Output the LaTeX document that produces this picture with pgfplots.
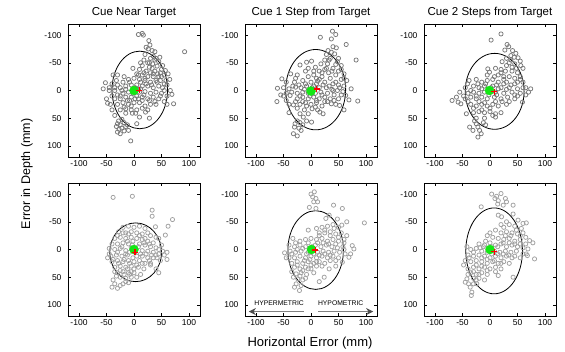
\documentclass[border=0pt]{standalone}
\usepackage{fontspec}
\setmainfont{Liberation Sans}
\usepackage{pgfplots}
\pgfplotsset{compat=1.18}
\usetikzlibrary{arrows.meta}
\definecolor{ptdark}{RGB}{120,120,120}
\definecolor{ptlight}{RGB}{160,160,160}
\definecolor{mygreen}{RGB}{20,230,20}
\pgfplotsset{
  panel/.style={
    scale only axis, width=132pt, height=133pt,
    xmin=-120,xmax=120,ymin=-120,ymax=120,
    y dir=reverse,
    xtick={-100,-50,0,50,100}, ytick={-100,-50,0,50,100},
    tick align=inside, major tick length=3pt,
    tick style={black, line width=0.5pt},
    axis line style={line width=0.7pt},
    ticklabel style={font=\fontsize{8.5}{10}\selectfont},
    yticklabel style={xshift=-3pt},
    /pgf/number format/assume math mode=true,
    title style={font=\fontsize{11.5}{13}\selectfont, yshift=-3pt},
  },
  pts/.style={only marks, mark=o, mark size=2.1pt, mark options={draw=#1, line width=0.75pt}},
  ctr/.style={only marks, mark=*, mark size=4.5pt, color=mygreen},
  mean/.style={only marks, mark=+, mark size=3pt, color=red, line width=1.4pt},
}
\begin{document}
\begin{tikzpicture}
\useasboundingbox (0,0) rectangle (565pt,352pt);
% ---------------- Panel 1
\begin{axis}[panel, at={(68pt,328pt)}, anchor=north west, title={Cue Near Target}]
\addplot[pts=ptdark] coordinates {
(8,-101)(15,-103)(17,-100)(27,-90)(29,-82)(22,-78)(26,-75)(33,-72)(38,-70)(92,-70)(47,-60)(20,-65)(35,-62)(40,-58)(30,-58)(45,-52)(18,-55)(25,-50)(34,-48)(52,-45)(42,-44)(28,-42)(15,-45)(50,-38)(57,-36)(48,-32)(38,-35)(30,-32)(22,-35)(10,-38)(-2,-40)(5,-30)(15,-28)(25,-25)(35,-25)(45,-25)(55,-28)(62,-30)(65,-20)(58,-18)(40,-18)(30,-15)(20,-18)(10,-20)(0,-22)(-10,-20)(-18,-25)(-30,-28)(-38,-28)(-20,-15)(-30,-10)(-40,-12)(-52,-14)(-56,-3)(-45,-5)(-35,0)(-25,-5)(-15,-8)(-5,-10)(5,-10)(15,-8)(25,-8)(35,-5)(45,-8)(52,-5)(60,-10)(66,0)(60,10)(50,5)(40,3)(30,5)(20,2)(10,3)(-10,3)(-20,5)(-30,8)(-40,10)(-48,23)(-43,25)(-50,15)(-35,15)(-25,15)(-15,12)(-5,12)(5,10)(15,12)(25,15)(35,12)(45,15)(55,20)(69,7)(72,24)(60,25)(-30,25)(-20,22)(-10,25)(0,22)(10,22)(20,28)(30,25)(40,25)(-25,35)(-15,33)(-5,35)(5,35)(15,32)(-15,41)(-3,41)(3,41)(21,39)(28,50)(-28,55)(-22,52)(-30,60)(-25,62)(-18,58)(-32,65)(-27,70)(-22,68)(-15,65)(-12,62)(-30,75)(-25,78)(-18,73)(-10,72)(-6,91)(10,48)(-35,45)(-40,35)(5,60)
(2,-5)(12,-3)(22,-12)(32,-10)(42,-15)(-8,-15)(-2,5)(8,15)(18,8)(28,18)(38,20)(48,10)(55,0)(-12,18)(-22,0)(-32,-18)(-45,0)(33,-40)(43,-30)(18,-32)(8,-28)(28,-50)(38,-55)(12,-50)(48,-18)(55,-12)(-5,28)(15,18)(25,35)(-18,30)(-8,18)(2,15)(12,-15)(-25,10)(-35,-5)(-15,-2)(8,-2)(20,-22)(35,-30)(50,-25)
};
\draw[black, line width=0.8pt] (axis cs:10.5,-1) ellipse [x radius=50.5, y radius=70];
\addplot[ctr] coordinates {(0,0)};
\addplot[mean] coordinates {(10,0)};
\end{axis}
% ---------------- Panel 2
\begin{axis}[panel, at={(245pt,328pt)}, anchor=north west, title={Cue 1 Step from Target}]
\addplot[pts=ptdark] coordinates {
(39,-107)(45,-101)(17,-96)(37,-93)(64,-83)(40,-79)(46,-77)(31,-72)(37,-69)(43,-66)(28,-65)(82,-55)(50,-58)(35,-58)(25,-55)(-20,-46)(-8,-51)(1,-53)(-10,-35)(8,-42)(18,-48)(30,-48)(45,-47)(55,-45)(40,-40)(50,-35)(25,-38)(15,-35)(32,-32)(60,-30)(45,-28)(-37,-30)(-53,-21)(-25,-28)(-5,-25)(5,-28)(20,-25)(35,-22)(55,-20)(65,-18)(-45,-15)(-30,-15)(-15,-18)(0,-15)(12,-17)(25,-15)(40,-12)(50,-10)(60,-8)(-61,-4)(-50,-5)(-40,-3)(-28,-6)(-18,-5)(-8,-8)(5,-8)(15,-5)(28,-5)(38,-2)(48,0)(58,2)(73,-3)(-55,8)(-45,5)(-35,3)(-25,5)(-15,3)(-5,5)(8,5)(18,3)(30,5)(42,8)(63,9)(-62,20)(-38,9)(-32,26)(-45,18)(-25,15)(-15,12)(-5,15)(5,12)(15,15)(25,12)(35,15)(50,15)(69,17)(85,19)(-20,25)(-10,22)(0,25)(10,22)(20,28)(37,24)(52,27)(-25,32)(-12,35)(2,33)(12,35)(-20,42)(-14,48)(-5,42)(16,39)(22,42)(-29,60)(-25,55)(-20,58)(-15,62)(-30,66)(-22,68)(-18,72)(-32,78)(-25,82)(1,57)(-8,55)(60,35)(-40,40)
(2,-5)(10,-12)(22,-10)(33,-8)(45,-15)(-10,-12)(-2,10)(10,18)(20,8)(30,20)(42,18)(55,8)(-22,-10)(-33,-8)(-50,10)(-40,25)(28,-40)(38,-35)(20,-32)(10,-22)(33,-55)(48,-52)(55,-38)(-8,28)(8,30)(-15,20)(-28,20)(3,-2)(15,-20)(40,0)(52,-5)(-12,-2)(-20,10)(25,20)(45,25)(-5,-40)(-28,-22)(5,-35)(60,-22)
};
\draw[black, line width=0.8pt] (axis cs:8.5,-1.5) ellipse [x radius=54.5, y radius=72.5];
\addplot[ctr] coordinates {(0,1)};
\addplot[mean] coordinates {(10,-3)};
\end{axis}
% ---------------- Panel 3
\begin{axis}[panel, at={(424pt,328pt)}, anchor=north west, title={Cue 2 Steps from Target}]
\addplot[pts=ptdark] coordinates {
(20,-102)(2,-91)(31,-83)(34,-79)(27,-73)(41,-72)(47,-67)(38,-63)(44,-60)(51,-59)(55,-53)(30,-58)(22,-52)(35,-50)(45,-48)(56,-45)(60,-40)(-4,-39)(-1,-33)(10,-40)(20,-38)(28,-35)(40,-35)(50,-32)(15,-28)(25,-25)(35,-25)(45,-22)(55,-25)(-41,-12)(-38,-18)(-25,-20)(-15,-15)(-5,-18)(5,-20)(15,-15)(30,-15)(45,-12)(60,-15)(65,-5)(-45,-5)(-30,-8)(-20,-5)(-10,-8)(5,-8)(20,-5)(35,-5)(50,-3)(74,-3)(70,3)(-55,3)(-40,5)(-30,3)(-20,5)(-10,3)(10,3)(25,5)(40,3)(55,5)(65,8)(-69,18)(-61,12)(-58,21)(-53,24)(-45,15)(-35,12)(-25,15)(-15,12)(-5,15)(8,12)(20,15)(32,12)(45,15)(59,21)(-35,25)(-25,28)(-15,25)(-5,28)(5,25)(15,28)(30,25)(-43,42)(-30,40)(-20,38)(-10,40)(0,38)(10,42)(20,40)(-25,50)(-10,50)(10,48)(-37,66)(-31,72)(-25,60)(-22,66)(-19,72)(-16,78)(-22,84)(-12,58)(-8,62)(-28,55)
(2,-5)(12,-10)(25,-12)(38,-10)(50,-15)(-8,-12)(-2,8)(12,8)(22,20)(35,20)(50,10)(-22,-12)(-35,0)(-48,10)(-40,20)(30,-45)(40,-42)(20,-32)(8,-25)(38,-55)(48,-40)(55,-20)(-10,22)(10,20)(-20,20)(-30,32)(0,32)(15,-3)(30,-2)(45,8)(-15,-3)(-25,10)(-15,35)(5,45)(-5,-28)(25,-20)(60,-5)
};
\draw[black, line width=0.8pt] (axis cs:8.5,1.5) ellipse [x radius=53.5, y radius=68.5];
\addplot[ctr] coordinates {(-1,0)};
\addplot[mean] coordinates {(8,2)};
\end{axis}
% ---------------- Panel 4
\begin{axis}[panel, at={(68pt,169pt)}, anchor=north west]
\addplot[pts=ptlight] coordinates {
(-38,-94)(-3,-96)(33,-71)(33,-60)(70,-54)(62,-42)(39,-41)(57,-26)(45,-20)(-20,-40)(-10,-42)(0,-40)(10,-42)(20,-38)(25,-30)(-28,-32)(-15,-30)(-5,-32)(5,-30)(15,-28)(30,-25)(40,-22)(-35,-20)(-25,-22)(-15,-20)(-5,-22)(5,-20)(15,-18)(25,-15)(35,-12)(-40,-10)(-30,-10)(-20,-12)(-10,-10)(10,-10)(20,-8)(30,-5)(40,-3)(50,-8)(52,3)(-45,-2)(-35,0)(-25,-2)(-15,2)(-5,-3)(15,2)(25,3)(35,5)(45,8)(55,10)(60,5)(-42,12)(-32,10)(-22,12)(-12,10)(5,12)(15,12)(25,15)(35,15)(48,20)(60,18)(-48,15)(-40,22)(-30,20)(-20,22)(-10,20)(0,22)(10,20)(20,25)(30,28)(-35,32)(-25,30)(-15,32)(-5,30)(8,32)(18,35)(40,35)(45,42)(-30,42)(-20,40)(-10,42)(0,42)(12,45)(-25,50)(-15,52)(-5,50)(-38,55)(-35,62)(-40,68)(-30,70)(-25,65)(-20,62)(-15,58)(-10,60)(30,25)(-8,5)(-2,15)
(-3,-8)(8,-5)(18,-12)(28,-10)(-12,-15)(-22,-5)(-30,5)(-38,18)(2,5)(12,8)(22,8)(32,10)(42,15)(-18,18)(-8,25)(5,28)(15,25)(-28,25)(-12,35)(0,35)(-25,38)(-18,45)(-8,45)(-32,48)(10,-25)(20,-20)(-10,-28)(-20,-30)(-30,-25)(45,0)(40,10)(28,20)(-35,40)(-45,8)(-5,40)(5,50)(-2,-15)(-15,8)
};
\draw[black, line width=0.8pt] (axis cs:3,5) ellipse [x radius=47, y radius=53];
\addplot[ctr] coordinates {(0,0)};
\addplot[mean] coordinates {(2,5)};
\end{axis}
% ---------------- Panel 5
\begin{axis}[panel, at={(245pt,169pt)}, anchor=north west]
\addplot[pts=ptlight] coordinates {
(6,-104)(0,-100)(3,-95)(9,-92)(5,-86)(12,-86)(-3,-76)(9,-74)(41,-80)(57,-74)(97,-48)(33,-62)(27,-56)(48,-55)(65,-50)(56,-44)(40,-45)(30,-42)(20,-40)(10,-38)(-5,-35)(15,-30)(25,-30)(35,-32)(45,-28)(55,-30)(65,-25)(-33,-20)(-20,-15)(-10,-18)(0,-20)(10,-18)(20,-20)(30,-15)(40,-18)(50,-15)(60,-12)(-40,-8)(-30,-5)(-20,-8)(-10,-5)(8,-8)(18,-5)(28,-8)(38,-5)(48,-3)(58,-5)(75,-7)(78,-1)(-48,6)(-38,3)(-28,5)(-18,3)(-8,8)(12,5)(22,3)(32,5)(42,3)(52,5)(62,8)(72,8)(69,14)(-40,15)(-30,15)(-20,12)(-10,15)(0,12)(10,15)(20,12)(30,15)(40,12)(50,15)(-35,25)(-25,22)(-15,25)(-5,22)(5,25)(15,22)(25,25)(57,23)(-30,32)(-20,35)(-10,32)(0,35)(10,30)(33,35)(45,30)(-27,44)(-18,42)(-8,45)(5,42)(-24,53)(-15,55)(-27,62)(-30,68)(-21,74)(-18,65)(24,50)(15,58)(-35,40)
(2,-5)(12,-12)(22,-12)(32,-10)(45,-10)(-5,-12)(-15,-2)(-25,0)(-35,8)(-45,15)(5,8)(15,10)(25,8)(35,10)(45,20)(-12,20)(-2,18)(10,22)(20,30)(-25,28)(-15,38)(-5,35)(15,-25)(25,-35)(35,-25)(42,-38)(50,-22)(60,-18)(-20,48)(-10,52)(-32,50)(0,28)(-5,5)(35,20)(60,0)(50,-40)(-28,-12)
};
\draw[black, line width=0.8pt] (axis cs:8.5,1) ellipse [x radius=50.5, y radius=71];
\addplot[ctr] coordinates {(1,0)};
\addplot[mean] coordinates {(8,1)};
\node[font=\fontsize{6.8}{8}\selectfont] at (axis cs:-58,96) {HYPERMETRIC};
\node[font=\fontsize{6.8}{8}\selectfont] at (axis cs:54,96) {HYPOMETRIC};
\draw[gray, line width=1.4pt, -{Stealth[length=7pt,width=7pt,black!70]}] (axis cs:-13,112) -- (axis cs:-113,112);
\draw[gray, line width=1.4pt, -{Stealth[length=7pt,width=7pt,black!70]}] (axis cs:13,112) -- (axis cs:113,112);
\end{axis}
% ---------------- Panel 6
\begin{axis}[panel, at={(424pt,169pt)}, anchor=north west]
\addplot[pts=ptlight] coordinates {
(3,-100)(12,-96)(20,-101)(9,-92)(15,-88)(28,-92)(30,-86)(24,-80)(14,-82)(-16,-77)(42,-80)(15,-62)(21,-59)(42,-64)(51,-53)(60,-47)(66,-48)(57,-38)(45,-42)(35,-45)(25,-40)(10,-35)(20,-30)(30,-32)(40,-30)(50,-28)(60,-30)(65,-22)(72,-16)(78,-12)(-5,-25)(5,-22)(15,-20)(25,-18)(35,-20)(45,-15)(55,-18)(-20,-10)(-10,-8)(0,-12)(10,-8)(20,-10)(30,-5)(40,-8)(50,-5)(60,-3)(69,-1)(-42,-5)(-35,0)(-25,-2)(-15,3)(-5,5)(8,3)(18,5)(28,3)(38,5)(48,3)(66,8)(81,17)(68,11)(-40,10)(-30,12)(-20,10)(-10,12)(0,15)(10,12)(20,15)(30,12)(40,15)(55,15)(-45,20)(-35,22)(-25,20)(-15,22)(-5,25)(5,22)(15,25)(25,22)(35,25)(-40,35)(-30,32)(-20,35)(-10,32)(0,35)(10,32)(20,35)(-35,42)(-25,45)(-15,42)(-5,45)(15,47)(42,50)(-42,53)(-45,59)(-39,62)(-36,68)(-30,62)(-24,62)(-33,77)(-34,83)(-20,52)(-10,55)
(3,-5)(14,-5)(24,-12)(35,-12)(45,-10)(55,-10)(-8,-15)(-18,-3)(-30,5)(-38,15)(-48,28)(3,8)(14,8)(24,8)(34,10)(45,12)(60,8)(-15,15)(-5,18)(8,20)(20,25)(-25,28)(-15,30)(-5,38)(10,40)(-30,40)(-20,45)(-40,45)(28,-25)(38,-25)(48,-35)(30,-50)(20,-45)(55,-25)(65,-10)(-30,52)(-25,55)(-12,-5)(0,-30)
};
\draw[black, line width=0.8pt] (axis cs:7.5,2.5) ellipse [x radius=51.5, y radius=77.5];
\addplot[ctr] coordinates {(0,0)};
\addplot[mean] coordinates {(8,4)};
\end{axis}
% ---------------- shared labels
\node[font=\fontsize{13}{15}\selectfont] at (310pt,9pt) {Horizontal Error (mm)};
\node[font=\fontsize{12.5}{15}\selectfont, rotate=90] at (27pt,178pt) {Error in Depth (mm)};
\end{tikzpicture}
\end{document}
